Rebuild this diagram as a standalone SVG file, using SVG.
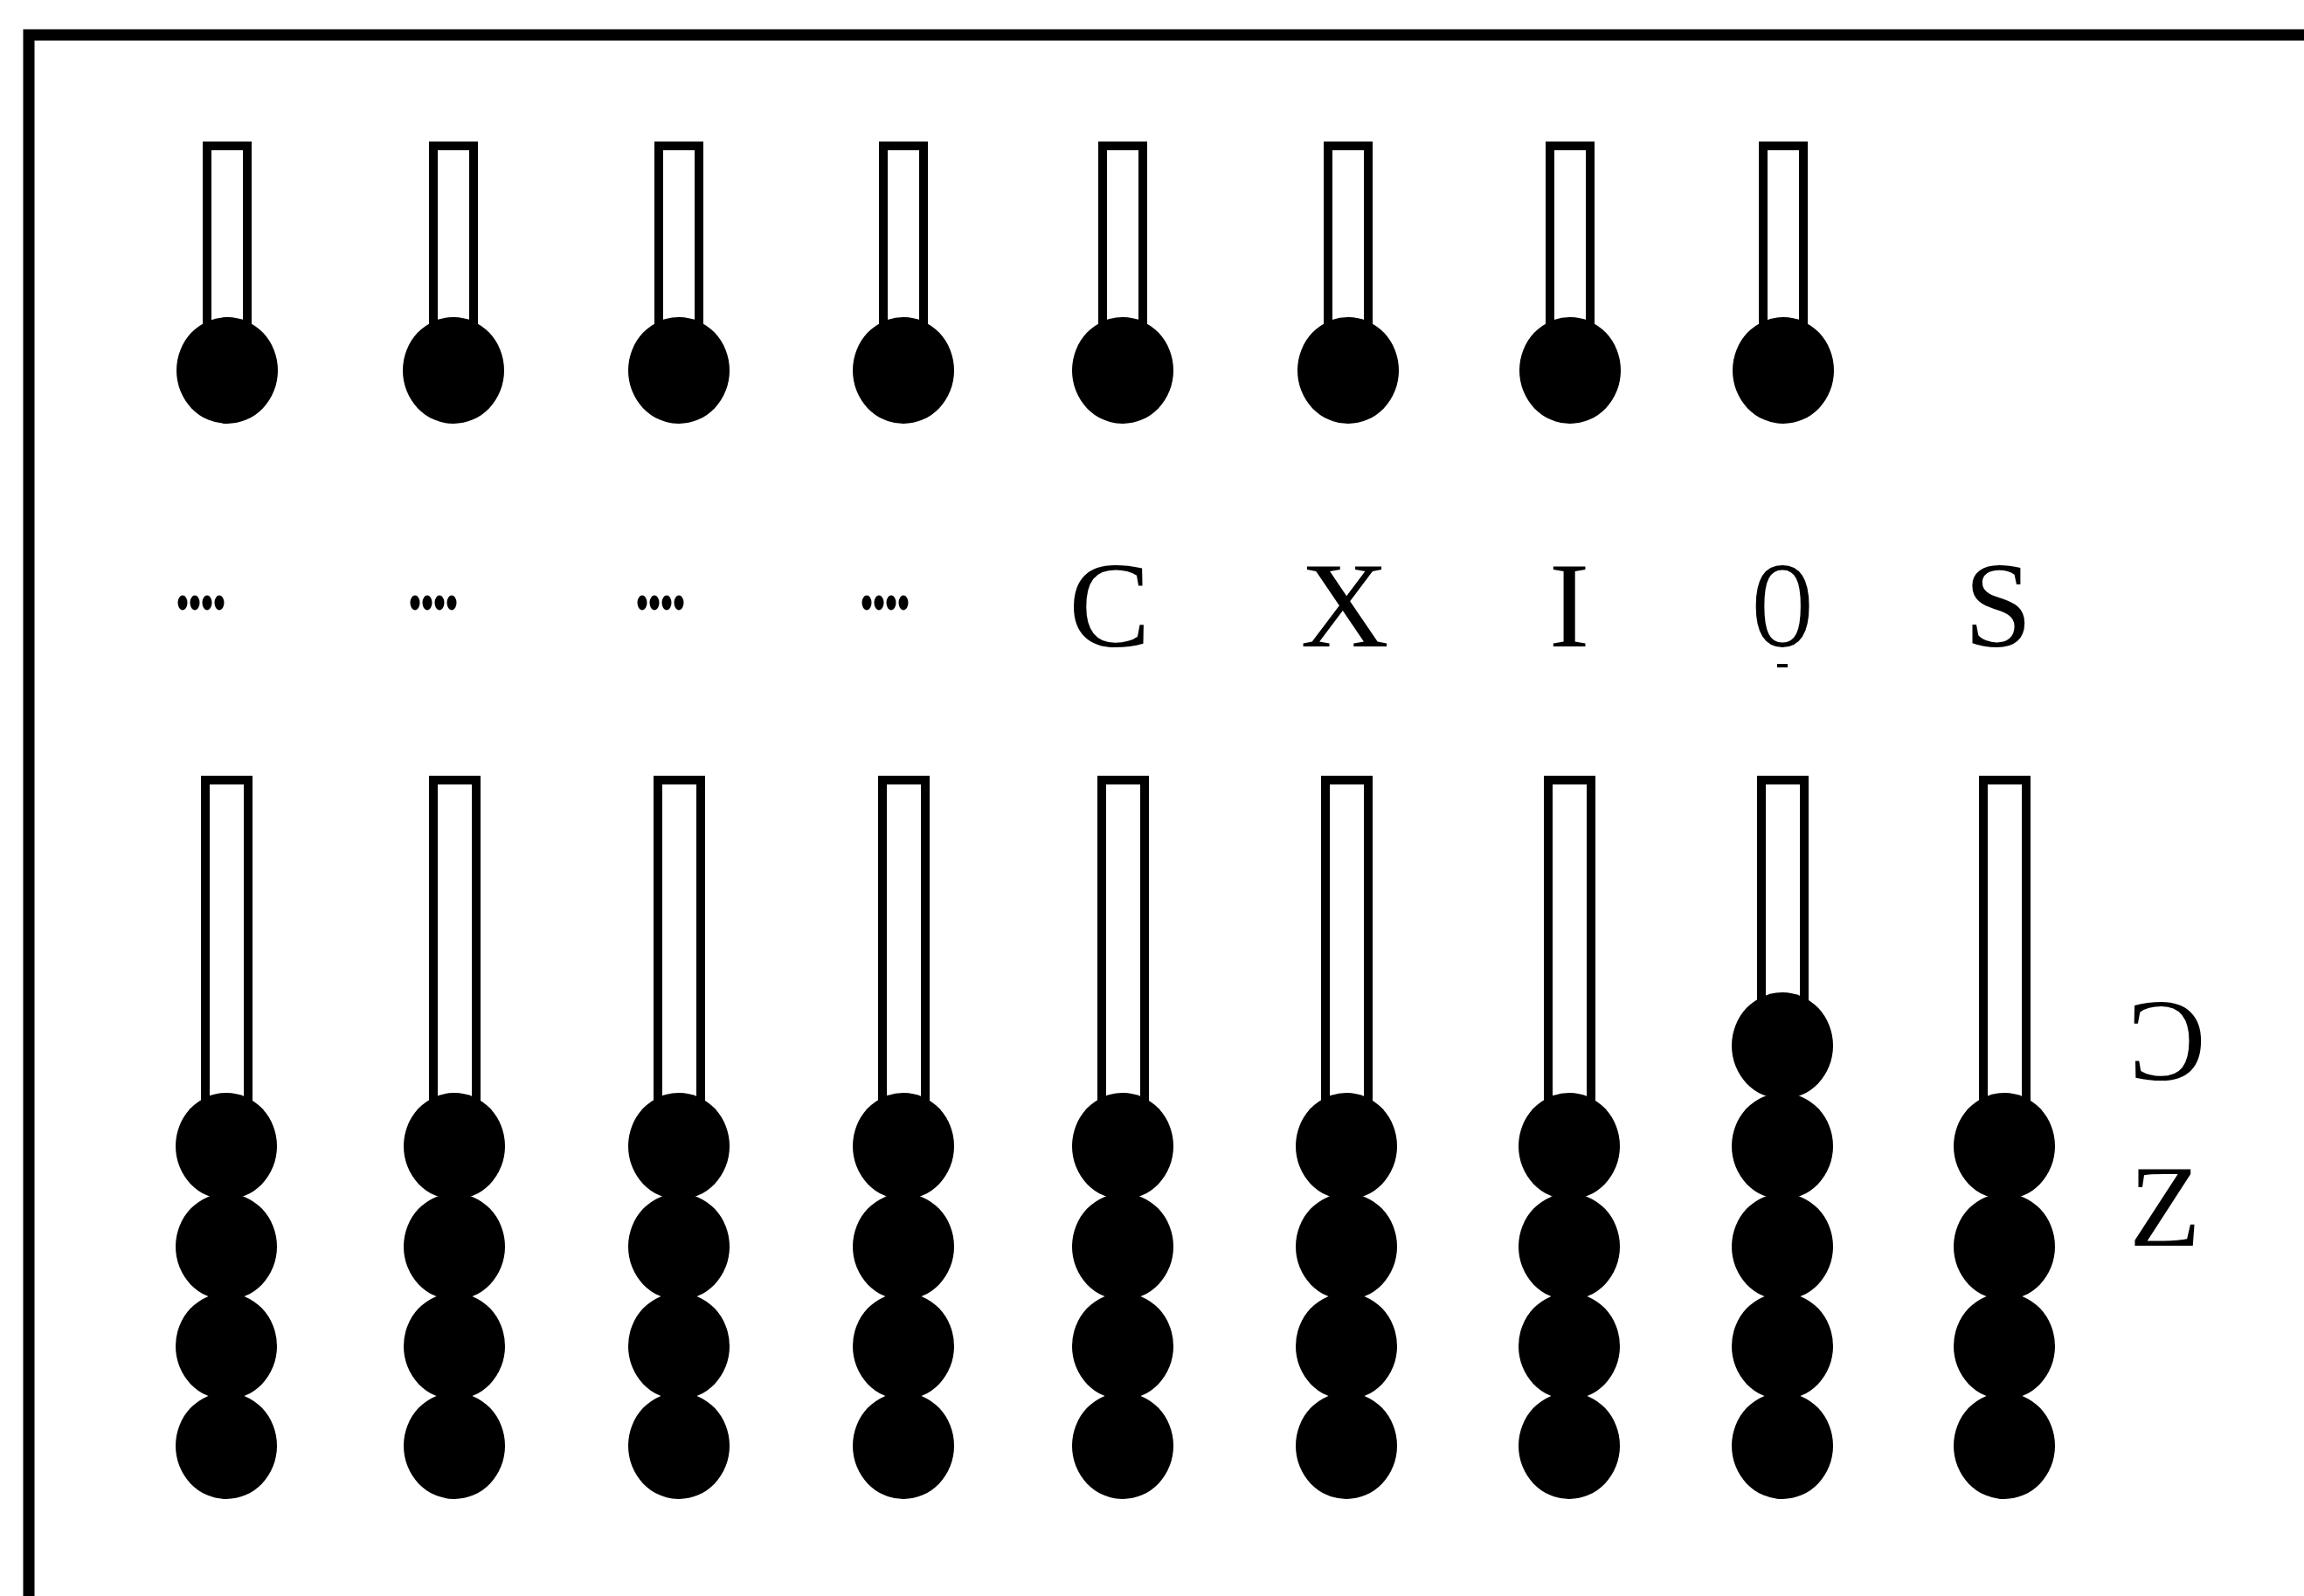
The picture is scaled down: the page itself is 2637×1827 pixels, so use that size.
<svg xmlns="http://www.w3.org/2000/svg" xmlns:xlink="http://www.w3.org/1999/xlink" width="2637" height="1827" viewBox="0 0 2637 1827">
<style>
.rod{fill:#fff;stroke:#000;stroke-width:10}
.frame{fill:none;stroke:#000;stroke-width:13}
.lbl{font-family:"Liberation Serif","DejaVu Serif",serif;font-size:140px;text-anchor:middle;fill:#000}
.lbl2{font-family:"Liberation Serif","DejaVu Serif",serif;font-size:134px;text-anchor:middle;fill:#000}
</style>
<defs>
<ellipse id="bead" cx="0" cy="0" rx="58" ry="61" fill="#000"/>
<ellipse id="d" cx="0" cy="0" rx="5.5" ry="8.5" fill="#000"/>
</defs>
<rect width="2637" height="1827" fill="#fff"/>
<g id="frame">
<path class="frame" d="M33,1827 V40 H2637"/>
</g>
<g id="upper">
<g id="u1"><rect class="rod" x="237" y="167" width="46" height="215"/><use xlink:href="#bead" x="260" y="424"/></g>
<g id="u2"><rect class="rod" x="496" y="167" width="46" height="215"/><use xlink:href="#bead" x="519" y="424"/></g>
<g id="u3"><rect class="rod" x="754" y="167" width="46" height="215"/><use xlink:href="#bead" x="777" y="424"/></g>
<g id="u4"><rect class="rod" x="1011" y="167" width="46" height="215"/><use xlink:href="#bead" x="1034" y="424"/></g>
<g id="u5"><rect class="rod" x="1262" y="167" width="46" height="215"/><use xlink:href="#bead" x="1285" y="424"/></g>
<g id="u6"><rect class="rod" x="1520" y="167" width="46" height="215"/><use xlink:href="#bead" x="1543" y="424"/></g>
<g id="u7"><rect class="rod" x="1774" y="167" width="46" height="215"/><use xlink:href="#bead" x="1797" y="424"/></g>
<g id="u8"><rect class="rod" x="2018" y="167" width="46" height="215"/><use xlink:href="#bead" x="2041" y="424"/></g>
</g>
<g id="labels">
<g id="dots1"><use xlink:href="#d" x="209" y="690"/><use xlink:href="#d" x="223" y="690"/><use xlink:href="#d" x="237" y="690"/><use xlink:href="#d" x="251" y="690"/></g>
<g id="dots2"><use xlink:href="#d" x="475" y="690"/><use xlink:href="#d" x="489" y="690"/><use xlink:href="#d" x="503" y="690"/><use xlink:href="#d" x="517" y="690"/></g>
<g id="dots3"><use xlink:href="#d" x="735" y="690"/><use xlink:href="#d" x="749" y="690"/><use xlink:href="#d" x="763" y="690"/><use xlink:href="#d" x="777" y="690"/></g>
<g id="dots4"><use xlink:href="#d" x="992" y="690"/><use xlink:href="#d" x="1006" y="690"/><use xlink:href="#d" x="1020" y="690"/><use xlink:href="#d" x="1034" y="690"/></g>
<text class="lbl" x="1270" y="740">C</text>
<text class="lbl" x="1539" y="740">X</text>
<text class="lbl" x="1796" y="740">I</text>
<text class="lbl" transform="translate(2040,740) scale(0.68,1)">O</text>
<rect x="2034" y="760" width="12" height="4" fill="#000"/>
<text class="lbl" x="2287" y="740">S</text>
<text class="lbl2" x="2480" y="1236">Ɔ</text>
<text class="lbl2" x="2478" y="1426">Z</text>
</g>
<g id="lower">
<g id="l1"><rect class="rod" x="235" y="893" width="49" height="380"/><use xlink:href="#bead" x="259" y="1312"/><use xlink:href="#bead" x="259" y="1427"/><use xlink:href="#bead" x="259" y="1541"/><use xlink:href="#bead" x="259" y="1655"/></g>
<g id="l2"><rect class="rod" x="496" y="893" width="49" height="380"/><use xlink:href="#bead" x="520" y="1312"/><use xlink:href="#bead" x="520" y="1427"/><use xlink:href="#bead" x="520" y="1541"/><use xlink:href="#bead" x="520" y="1655"/></g>
<g id="l3"><rect class="rod" x="753" y="893" width="49" height="380"/><use xlink:href="#bead" x="777" y="1312"/><use xlink:href="#bead" x="777" y="1427"/><use xlink:href="#bead" x="777" y="1541"/><use xlink:href="#bead" x="777" y="1655"/></g>
<g id="l4"><rect class="rod" x="1010" y="893" width="49" height="380"/><use xlink:href="#bead" x="1034" y="1312"/><use xlink:href="#bead" x="1034" y="1427"/><use xlink:href="#bead" x="1034" y="1541"/><use xlink:href="#bead" x="1034" y="1655"/></g>
<g id="l5"><rect class="rod" x="1261" y="893" width="49" height="380"/><use xlink:href="#bead" x="1285" y="1312"/><use xlink:href="#bead" x="1285" y="1427"/><use xlink:href="#bead" x="1285" y="1541"/><use xlink:href="#bead" x="1285" y="1655"/></g>
<g id="l6"><rect class="rod" x="1517" y="893" width="49" height="380"/><use xlink:href="#bead" x="1541" y="1312"/><use xlink:href="#bead" x="1541" y="1427"/><use xlink:href="#bead" x="1541" y="1541"/><use xlink:href="#bead" x="1541" y="1655"/></g>
<g id="l7"><rect class="rod" x="1772" y="893" width="49" height="380"/><use xlink:href="#bead" x="1796" y="1312"/><use xlink:href="#bead" x="1796" y="1427"/><use xlink:href="#bead" x="1796" y="1541"/><use xlink:href="#bead" x="1796" y="1655"/></g>
<g id="l8"><rect class="rod" x="2016" y="893" width="49" height="270"/><use xlink:href="#bead" x="2040" y="1197"/><use xlink:href="#bead" x="2040" y="1312"/><use xlink:href="#bead" x="2040" y="1427"/><use xlink:href="#bead" x="2040" y="1541"/><use xlink:href="#bead" x="2040" y="1655"/></g>
<g id="l9"><rect class="rod" x="2270" y="893" width="49" height="380"/><use xlink:href="#bead" x="2294" y="1312"/><use xlink:href="#bead" x="2294" y="1427"/><use xlink:href="#bead" x="2294" y="1541"/><use xlink:href="#bead" x="2294" y="1655"/></g>
</g>
<g id="connectors"/>
</svg>
